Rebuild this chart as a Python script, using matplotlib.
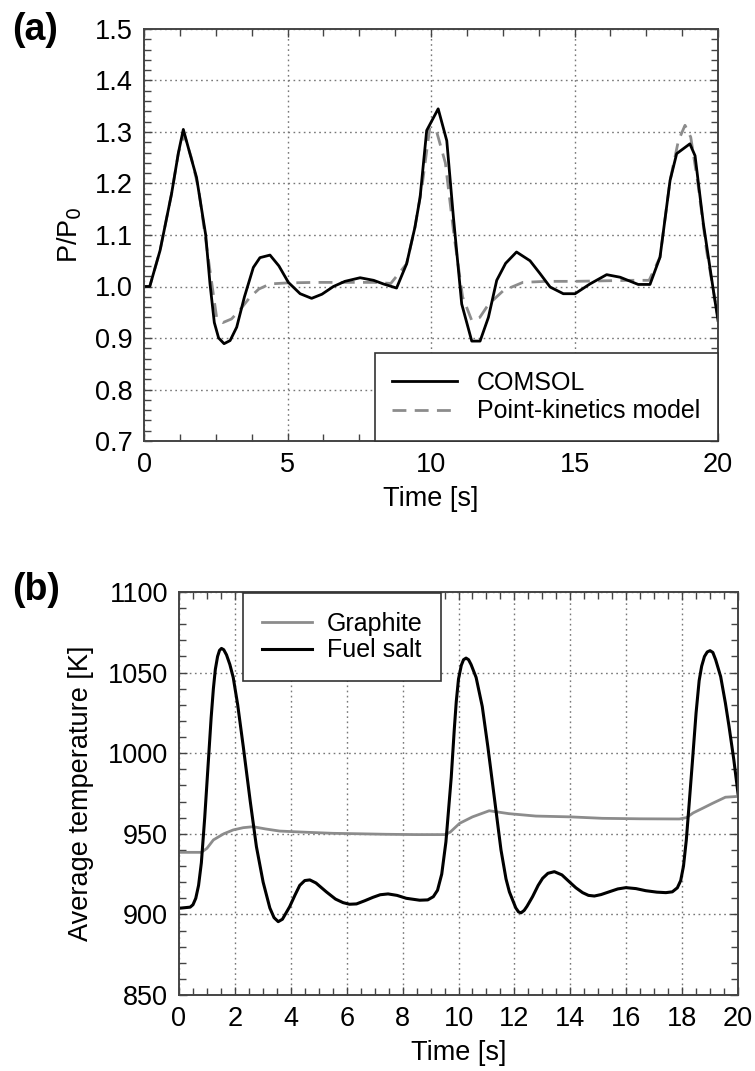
import matplotlib
matplotlib.use("Agg")
import matplotlib.pyplot as plt
from matplotlib.ticker import MultipleLocator

plt.rcParams['font.family'] = ['Liberation Sans', 'DejaVu Sans']

# ---------------- Data (a) ----------------
t_comsol = [0, 0.2, 0.56, 0.96, 1.2, 1.37, 1.6, 1.83, 2.15, 2.3, 2.45, 2.6, 2.79, 3.0, 3.23,
            3.5, 3.81, 4.04, 4.39, 4.7, 5.03, 5.44, 5.84, 6.2, 6.6, 7.0, 7.53, 8.0, 8.34, 8.8,
            9.15, 9.44, 9.62, 9.85, 10.25, 10.55, 10.78, 11.07, 11.42, 11.71, 12.0, 12.29,
            12.6, 12.98, 13.45, 13.8, 14.15, 14.61, 15.02, 15.54, 16.12, 16.59, 17.22, 17.63,
            17.98, 18.33, 18.56, 19.02, 19.2, 19.49, 19.84, 20.0]
p_comsol = [1.0, 1.0, 1.07, 1.18, 1.26, 1.305, 1.258, 1.212, 1.1, 1.005, 0.93, 0.9, 0.889,
            0.895, 0.921, 0.98, 1.037, 1.056, 1.061, 1.04, 1.008, 0.986, 0.977, 0.985, 1.0,
            1.01, 1.017, 1.012, 1.005, 0.997, 1.044, 1.115, 1.173, 1.303, 1.345, 1.283, 1.135,
            0.966, 0.894, 0.894, 0.94, 1.012, 1.045, 1.067, 1.05, 1.025, 0.999, 0.986, 0.986,
            1.005, 1.023, 1.018, 1.004, 1.004, 1.057, 1.206, 1.258, 1.277, 1.254, 1.122,
            0.992, 0.934]

t_pk = [0, 0.2, 0.56, 0.96, 1.2, 1.4, 1.65, 1.9, 2.2, 2.53, 2.75, 3.05, 3.35, 3.69, 4.0,
        4.39, 5.0, 6.0, 7.0, 8.0, 8.6, 9.15, 9.44, 9.7, 9.96, 10.2, 10.5, 10.8, 11.1, 11.42,
        11.7, 12.0, 12.52, 13.2, 14.0, 15.0, 16.0, 17.0, 17.6, 17.98, 18.33, 18.62, 18.85,
        19.05, 19.3, 19.6, 20.0]
p_pk = [1.0, 1.0, 1.07, 1.18, 1.26, 1.295, 1.25, 1.19, 1.07, 0.94, 0.93, 0.937, 0.955,
        0.979, 0.995, 1.005, 1.007, 1.008, 1.008, 1.008, 1.006, 1.044, 1.115, 1.2, 1.309,
        1.3, 1.24, 1.1, 0.98, 0.934, 0.94, 0.965, 0.992, 1.008, 1.01, 1.01, 1.011, 1.012,
        1.012, 1.057, 1.206, 1.283, 1.313, 1.29, 1.2, 1.07, 0.94]

# ---------------- Data (b) ----------------
t_fuel = [0, 0.4, 0.5, 0.6, 0.7, 0.8, 0.92, 1.05, 1.15, 1.23, 1.3, 1.38, 1.45, 1.52, 1.6,
          1.7, 1.82, 1.94, 2.1, 2.3, 2.55, 2.77, 3.01, 3.25, 3.4, 3.55, 3.7, 3.96, 4.15,
          4.32, 4.5, 4.68, 4.9, 5.27, 5.6, 5.87, 6.1, 6.35, 6.65, 6.94, 7.2, 7.48, 7.8,
          8.13, 8.61, 8.9, 9.1, 9.25, 9.4, 9.55, 9.74, 9.85, 9.92, 10.0, 10.1, 10.18, 10.27,
          10.36, 10.45, 10.63, 10.85, 11.05, 11.3, 11.52, 11.7, 11.82, 12.05, 12.15, 12.24,
          12.35, 12.45, 12.65, 12.85, 13.01, 13.2, 13.43, 13.7, 13.96, 14.2, 14.44, 14.65,
          14.86, 15.1, 15.39, 15.7, 15.99, 16.35, 16.7, 17.1, 17.42, 17.65, 17.83, 17.95,
          18.05, 18.15, 18.25, 18.37, 18.5, 18.61, 18.7, 18.8, 18.9, 19.0, 19.1, 19.2, 19.38,
          19.55, 19.68, 19.85, 20.0]
T_fuel = [903.8, 904.5, 906, 910, 918, 932, 960, 995, 1022, 1040, 1052, 1060, 1063.8, 1065,
          1064.2, 1061, 1055, 1047, 1030, 1004, 970, 942, 920, 904, 898, 895.5, 897, 904.8,
          912, 918, 921, 921.4, 919.5, 914, 909.5, 907.3, 906.3, 906.5, 908.5, 910.6, 912.2,
          912.7, 911.8, 910, 908.8, 909, 911, 915, 925, 945, 985, 1015, 1032, 1046, 1054.5,
          1058, 1059, 1058, 1055, 1047, 1029, 1004, 970, 940, 922, 914, 904, 901.5, 901,
          902.5, 905, 911, 918, 922.4, 925.5, 926.5, 924.5, 920.3, 916.5, 913.5, 911.8,
          911.4, 912.3, 914, 915.8, 916.6, 916, 914.7, 913.8, 913.5, 914, 916.5, 921, 930,
          946, 968, 995, 1025, 1045, 1054, 1060, 1062.8, 1063.6, 1062.5, 1058, 1047.5, 1031,
          1016.5, 996, 975]

t_graph = [0, 0.8, 1.0, 1.23, 1.6, 1.94, 2.3, 2.65, 3.1, 3.6, 4.5, 5.5, 6.5, 7.4, 8.5, 9.5,
           9.7, 10.04, 10.5, 11.1, 11.8, 12.77, 14.0, 15.15, 16.5, 17.9, 18.15, 18.4, 18.73,
           19.1, 19.55, 20.0]
T_graph = [938.5, 938.5, 941, 946.2, 950, 952.4, 953.8, 954.4, 953, 951.7, 951, 950.3, 950,
           949.7, 949.5, 949.5, 951, 956.5, 960.5, 964.3, 962.5, 961, 960.5, 959.6, 959.3,
           959.2, 960, 963, 965.8, 969, 972.7, 973.2]

FS = 19.5
LFS = 18
fig = plt.figure(figsize=(7.55, 10.71), dpi=100)

def style(ax):
    ax.tick_params(which='both', direction='in', top=True, right=True,
                   labelsize=FS, color='#444444', pad=8)
    ax.tick_params(which='major', length=6, width=1.0)
    ax.tick_params(which='minor', length=5, width=1.0)
    for s in ax.spines.values():
        s.set_color('#444444')
        s.set_linewidth(1.4)
    ax.grid(True, which='major', linestyle=(0, (1.2, 2.5)), color='#777777', linewidth=1.0)
    ax.set_axisbelow(True)

# ---- (a)
ax1 = fig.add_axes([144/755, 1-441/1071, 574/755, 412/1071])
ax1.plot(t_pk, p_pk, color='#8c8c8c', lw=2.0, ls=(0, (5, 3)), label='Point-kinetics model')
ax1.plot(t_comsol, p_comsol, color='black', lw=2.0, label='COMSOL')
ax1.set_xlim(0, 20)
ax1.set_ylim(0.7, 1.5)
ax1.xaxis.set_major_locator(MultipleLocator(5))
ax1.xaxis.set_minor_locator(MultipleLocator(1.25))
ax1.yaxis.set_major_locator(MultipleLocator(0.1))
ax1.yaxis.set_minor_locator(MultipleLocator(0.02))
ax1.set_yticks(ax1.get_yticks())
ax1.set_yticklabels([f'{v:.1f}' for v in ax1.get_yticks()])
ax1.set_ylim(0.7, 1.5)
style(ax1)
ax1.set_xlabel('Time [s]', fontsize=FS, labelpad=6)
ax1.set_ylabel('P/P$_0$', fontsize=FS, labelpad=8)
h, l = ax1.get_legend_handles_labels()
leg1 = ax1.legend(h[::-1], l[::-1], loc='lower right', bbox_to_anchor=(1.0, 0.0),
                  borderaxespad=0, fontsize=LFS, fancybox=False, framealpha=1,
                  edgecolor='#333333', handlelength=2.6, borderpad=0.7,
                  handletextpad=0.8, labelspacing=0.2)
leg1.get_frame().set_linewidth(1.2)
fig.text(12/755, 1-30/1071, '(a)', fontsize=27, fontweight='bold', va='center', ha='left')

# ---- (b)
ax2 = fig.add_axes([179/755, 1-995/1071, 559/755, 403/1071])
ax2.plot(t_graph, T_graph, color='#8c8c8c', lw=2.0, label='Graphite')
ax2.plot(t_fuel, T_fuel, color='black', lw=2.2, label='Fuel salt')
ax2.set_xlim(0, 20)
ax2.set_ylim(850, 1100)
ax2.xaxis.set_major_locator(MultipleLocator(2))
ax2.xaxis.set_minor_locator(MultipleLocator(0.5))
ax2.yaxis.set_major_locator(MultipleLocator(50))
ax2.yaxis.set_minor_locator(MultipleLocator(10))
style(ax2)
ax2.set_xlabel('Time [s]', fontsize=FS, labelpad=6)
ax2.set_ylabel('Average temperature [K]', fontsize=FS, labelpad=10)
leg2 = ax2.legend(loc='upper left', bbox_to_anchor=((243-179)/559, 0.997),
                  borderaxespad=0, fontsize=LFS, fancybox=False, framealpha=1,
                  edgecolor='#333333', handlelength=2.0, borderpad=0.75,
                  handletextpad=0.6, labelspacing=0.1)
leg2.get_frame().set_linewidth(1.2)
fig.text(12/755, 1-590/1071, '(b)', fontsize=27, fontweight='bold', va='center', ha='left')

fig.savefig('out.png', dpi=100)
